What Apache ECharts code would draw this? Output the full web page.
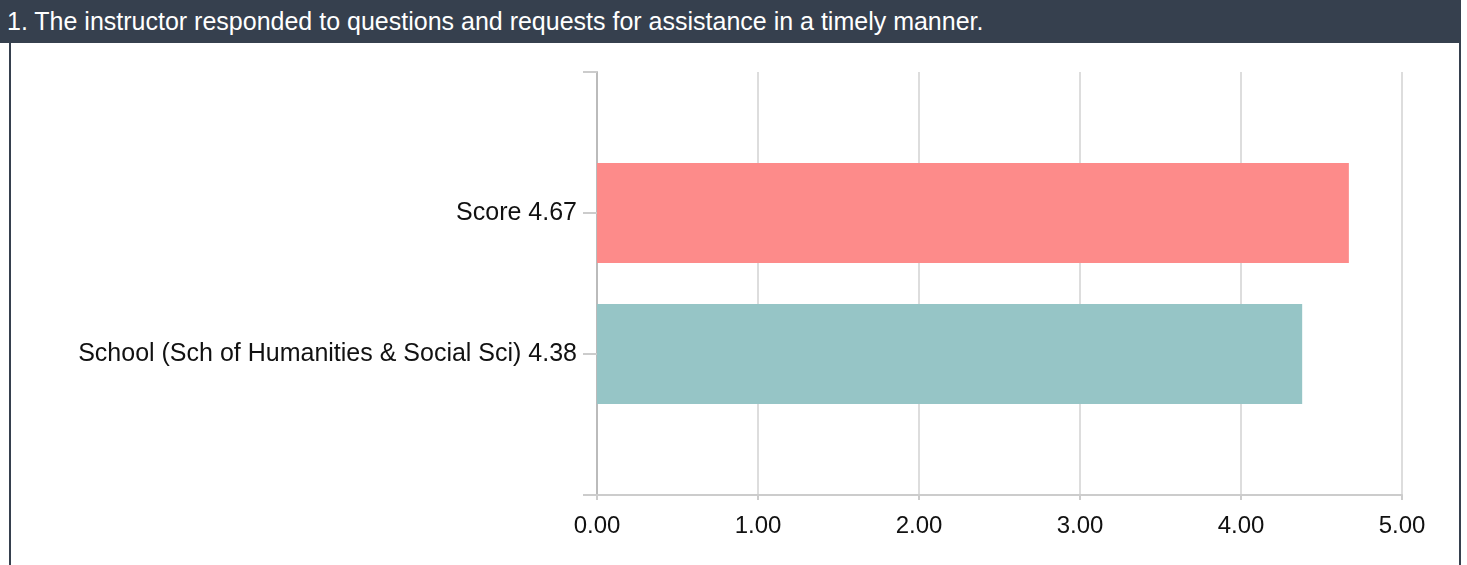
<!DOCTYPE html>
<html>
<head>
<meta charset="utf-8">
<script src="https://cdn.jsdelivr.net/npm/echarts@6/dist/echarts.min.js"></script>
<style>
  html, body { margin: 0; padding: 0; background: #fff; }
  .panel { position: absolute; left: 0; top: 0; width: 1467px; height: 565px; overflow: hidden; }
  .head {
    position: absolute; left: 0; top: 0; width: 1461px; height: 43px;
    background: #36404e; color: #fff;
    font: 25px "Liberation Sans", Arial, sans-serif; line-height: 43px;
    padding-left: 7px; box-sizing: border-box; white-space: nowrap;
  }
  .edgeL { position: absolute; left: 9px; top: 43px; width: 2px; height: 522px; background: #36404e; }
  .edgeR { position: absolute; left: 1459px; top: 43px; width: 2px; height: 522px; background: #36404e; }
  #chart { position: absolute; left: 0; top: 0; width: 1467px; height: 565px; }
</style>
</head>
<body>
<div class="panel">
  <div class="head">1. The instructor responded to questions and requests for assistance in a timely manner.</div>
  <div class="edgeL"></div>
  <div class="edgeR"></div>
  <div id="chart"></div>
</div>
<script>
// data
const labels = ['Score 4.67', 'School (Sch of Humanities & Social Sci) 4.38'];
const values = [4.67, 4.38];
const barColors = ['#fd8b8a', '#96c5c6'];
const xTicks = [0, 1, 2, 3, 4, 5];

// padding slots at both ends so ticks sit at the ends and at each label
const cats = [''].concat(labels, ['']);
const barData = [null].concat(values.map((v, i) => ({
  value: v,
  itemStyle: { color: barColors[i] }
})), [null]);

const FONT = '"Liberation Sans", Arial, sans-serif';

let myChart = echarts.init(document.getElementById('chart'), null, { renderer: 'canvas' });
myChart.setOption({
  backgroundColor: 'transparent',
  animation: false,
  grid: { left: 597, right: 65, top: 72, bottom: 70, containLabel: false },
  xAxis: {
    type: 'value',
    min: xTicks[0],
    max: xTicks[xTicks.length - 1],
    interval: 1,
    axisLine: { show: true, lineStyle: { color: '#cccccc', width: 2 } },
    axisTick: { show: true, length: 5, lineStyle: { color: '#cccccc', width: 2 } },
    axisLabel: {
      margin: 19,
      color: '#111',
      fontSize: 24,
      fontFamily: FONT,
      formatter: v => v.toFixed(2)
    },
    splitLine: { show: true, lineStyle: { color: '#dddddd', width: 2 } }
  },
  yAxis: {
    type: 'category',
    data: cats,
    inverse: true,
    boundaryGap: false,
    axisLine: { show: true, lineStyle: { color: '#bbbbbb', width: 2 } },
    axisTick: { show: true, length: 14, lineStyle: { color: '#cccccc', width: 2 } },
    axisLabel: {
      margin: 20,
      color: '#111',
      fontSize: 25,
      fontFamily: FONT,
      interval: 0
    },
    splitLine: { show: false }
  },
  series: [{
    type: 'bar',
    data: barData,
    barWidth: 100,
    z: 1
  }]
});
</script>
</body>
</html>
